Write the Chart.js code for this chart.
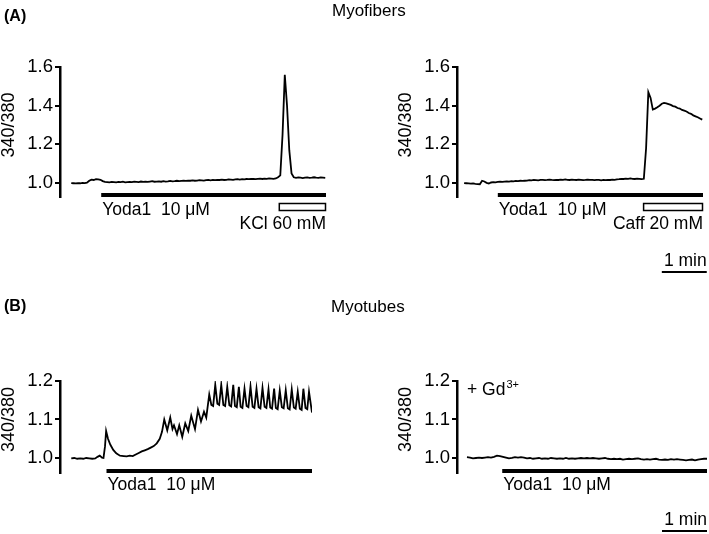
<!DOCTYPE html>
<html>
<head>
<meta charset="utf-8">
<script src="https://cdn.jsdelivr.net/npm/chart.js@4/dist/chart.umd.min.js"></script>
<style>
  body { margin: 0; background: #fff; }
  #fig { position: relative; width: 709px; height: 534px; font-family: Arial, "Liberation Sans", Helvetica, sans-serif; color: #000; }
  #fig canvas { position: absolute; }
  .lbl { position: absolute; font-size: 17px; line-height: 1; white-space: nowrap; }
</style>
</head>
<body>
<div id="fig">
  <canvas id="a1" width="345" height="285" style="left:0;top:0"></canvas>
  <canvas id="a2" width="312" height="285" style="left:397px;top:0"></canvas>
  <canvas id="b1" width="345" height="244" style="left:0;top:290px"></canvas>
  <canvas id="b2" width="312" height="244" style="left:397px;top:290px"></canvas>
  <div class="lbl" style="left:4px;top:8px;font-weight:bold;font-size:16px">(A)</div>
  <div class="lbl" style="left:332px;top:2px">Myofibers</div>
  <div class="lbl" style="left:4px;top:298px;font-weight:bold;font-size:16px">(B)</div>
  <div class="lbl" style="left:331px;top:298px">Myotubes</div>
</div>
<script>
// time in s, ratio 340/380

// (A) myofibers, Yoda1 then KCl - one sample every 3 s
const stepA = 3;
const ratioA1 = [
  1.000, 0.999, 0.998, 1.000, 0.999, 1.001, 1.000, 1.002,
  1.012, 1.018, 1.016, 1.020, 1.019, 1.017,
  1.010, 1.006,
  1.005, 1.004, 1.006, 1.005, 1.004, 1.006, 1.005, 1.007, 1.004, 1.005,
  1.006, 1.005, 1.007, 1.006, 1.005, 1.008, 1.006, 1.007, 1.006, 1.008,
  1.010, 1.007, 1.008, 1.009, 1.007, 1.010, 1.008, 1.009, 1.011, 1.009,
  1.010, 1.012, 1.010, 1.011,
  1.012, 1.011, 1.013, 1.012, 1.014, 1.012, 1.013, 1.015, 1.014, 1.013,
  1.015, 1.016, 1.014, 1.016, 1.015, 1.017, 1.016, 1.018, 1.016, 1.017,
  1.019, 1.018, 1.017, 1.019, 1.020, 1.018, 1.020, 1.019, 1.021, 1.020,
  1.022, 1.021, 1.020, 1.022, 1.023, 1.021, 1.023, 1.022, 1.024, 1.023,
  1.022, 1.024, 1.030,
  1.040, 1.250, 1.560, 1.400, 1.170, 1.050, 1.030,
  1.027, 1.029, 1.028, 1.026, 1.028, 1.029, 1.027, 1.028, 1.030, 1.028,
  1.027, 1.029, 1.028, 1.027
];
const yodaA1 = [40, 340];
const kclA1 = [277, 340];

// (A) myofibers, Yoda1 then caffeine
const ratioA2 = [
  1.000, 0.999, 0.998, 0.997, 0.998, 0.996, 0.995, 0.994,
  1.012, 1.008, 1.001,
  0.998, 1.003, 1.005, 1.004, 1.006, 1.007, 1.006, 1.008, 1.009, 1.008,
  1.010, 1.009, 1.011, 1.010, 1.012, 1.011, 1.012,
  1.013, 1.015, 1.014, 1.016, 1.015, 1.014, 1.016, 1.017, 1.015, 1.016,
  1.018, 1.016, 1.015, 1.017, 1.016, 1.018, 1.017, 1.019, 1.017, 1.016,
  1.018, 1.017, 1.016, 1.018, 1.017, 1.015, 1.016, 1.018, 1.017, 1.016,
  1.015, 1.017, 1.016, 1.014, 1.016, 1.015, 1.017, 1.016, 1.018, 1.017,
  1.019, 1.020, 1.022, 1.021, 1.023, 1.022, 1.024, 1.022, 1.021, 1.023,
  1.022, 1.020,
  1.022, 1.180, 1.470, 1.440, 1.380, 1.385,
  1.392, 1.400, 1.410, 1.414, 1.412, 1.408, 1.404, 1.398, 1.395, 1.388,
  1.385, 1.378, 1.374, 1.370, 1.362, 1.358, 1.350, 1.345, 1.340, 1.334,
  1.328
];
const yodaA2 = [45, 319];
const caffA2 = [239, 319];

// (B) myotubes, Yoda1 alone - peaks and troughs
const timeB1 = [
  0, 4, 8, 12, 16, 20, 24, 28, 32, 35, 38, 41, 43, 45, 46.5, 49, 52, 56, 60, 65,
  70, 74, 78, 82, 86, 90, 94, 98, 102, 106, 110, 114, 118, 121, 124, 128, 132, 135, 137, 141,
  144, 148, 152, 156, 160, 165, 169, 173, 177, 180,
  184, 186.8, 189.2, 192, 194.8, 197.2, 200, 202.8, 205.2, 208, 210.8, 213.2,
  216, 218.3, 220.7, 223.5, 225.8, 228.2, 231, 233.8, 236.2, 239, 241.8, 244.2,
  247, 249.8, 252.2, 255, 257.8, 260.2, 263, 265.3, 267.7, 270.5, 272.8, 275.2,
  278, 280.8, 283.2, 286, 288.8, 291.2, 294, 296.8, 299.2, 302, 304.8, 307.2,
  309.5, 312.3, 314.7, 317, 321
];
const ratioB1 = [
  0.999, 1.000, 0.998, 0.999, 0.998, 1.000, 0.999, 0.998, 0.999, 1.003, 1.006, 1.001, 1.000, 1.030, 1.070, 1.050, 1.035, 1.021, 1.012, 1.006,
  1.005, 1.004, 1.006, 1.005, 1.009, 1.013, 1.017, 1.020, 1.023, 1.027, 1.031, 1.038, 1.050, 1.068, 1.100, 1.072, 1.105, 1.075, 1.085, 1.062,
  1.085, 1.055, 1.090, 1.070, 1.110, 1.075, 1.125, 1.095, 1.120, 1.105,
  1.165, 1.138, 1.135, 1.190, 1.141, 1.138, 1.190, 1.138, 1.135, 1.185, 1.137, 1.134,
  1.190, 1.135, 1.132, 1.185, 1.133, 1.130, 1.180, 1.135, 1.132, 1.186, 1.133, 1.130,
  1.180, 1.132, 1.129, 1.182, 1.133, 1.130, 1.178, 1.131, 1.128, 1.180, 1.130, 1.127,
  1.175, 1.132, 1.129, 1.176, 1.129, 1.126, 1.178, 1.131, 1.128, 1.172, 1.128, 1.125,
  1.180, 1.130, 1.127, 1.172, 1.118
];
const yodaB1 = [47, 321];

// (B) myotubes, Yoda1 with Gd3+ - one sample every 4 s
const stepB2 = 4;
const ratioB2 = [
  1.002, 1.001, 0.999, 1.000, 1.001, 1.000, 1.001, 1.002, 1.001, 1.003,
  1.006, 1.005, 1.003, 1.001, 0.999, 1.000, 1.002, 1.001, 1.002, 1.001,
  0.999, 1.000, 0.998, 0.999, 1.000, 0.998, 0.999, 0.998, 1.000, 0.999,
  0.998, 0.999, 0.998, 1.000, 0.998, 0.999, 0.998, 0.999, 1.000, 0.999,
  1.000, 0.999, 1.000, 0.999, 0.998, 0.999, 1.000, 0.998, 0.997, 0.998,
  0.997, 0.998, 0.996, 0.997, 0.998, 0.997, 0.998, 0.999, 0.997, 0.996,
  0.997, 0.996, 0.997, 0.998, 0.996, 0.995, 0.996, 0.995, 0.997, 0.996,
  0.997, 0.996, 0.995, 0.994, 0.995, 0.996, 0.994, 0.996, 0.997, 0.998,
  0.998
];
const yodaB2 = [47, 320];

const ticksA = [1.0, 1.2, 1.4, 1.6];
const ticksB = [1.0, 1.1, 1.2];
const scaleBarSec = 60;

const yLabel = '340/380';
const yodaLabel = 'Yoda1  10 \u03bcM';
const kclLabel = 'KCl 60 mM';
const caffLabel = 'Caff 20 mM';
const scaleLabel = '1 min';

const family = 'Arial, "Liberation Sans", Helvetica, sans-serif';
const textFont = '17.5px ' + family;

const marks = {
  id: 'marks',
  afterDraw(chart, args, o) {
    const ctx = chart.ctx, ca = chart.chartArea;
    const x = chart.scales.x, y = chart.scales.y;
    ctx.save();
    ctx.fillStyle = '#000';
    ctx.strokeStyle = '#000';
    ctx.font = textFont;
    ctx.textBaseline = 'middle';

    // axis title, centred on the ticked range
    const midY = (y.getPixelForValue(o.ticks[0]) + y.getPixelForValue(o.ticks[o.ticks.length - 1])) / 2;
    ctx.save();
    ctx.translate(ca.left - 51, midY);
    ctx.rotate(-Math.PI / 2);
    ctx.textAlign = 'center';
    ctx.font = '18px ' + family;
    ctx.fillText(yLabel, 0, 0);
    ctx.restore();

    // Yoda1 application bar
    const y0 = x.getPixelForValue(o.yoda[0]), y1 = x.getPixelForValue(o.yoda[1]);
    ctx.fillRect(y0, ca.bottom - 4, y1 - y0, 4);
    ctx.textAlign = 'left';
    ctx.fillText(yodaLabel, y0 + 1, ca.bottom + o.textDy);

    // second drug, open bar
    if (o.open) {
      const o0 = x.getPixelForValue(o.open[0]), o1 = x.getPixelForValue(o.open[1]);
      ctx.lineWidth = 1.5;
      ctx.strokeRect(o0 + 0.5, ca.bottom + 6.5, o1 - o0 - 1, 7);
      ctx.textAlign = 'right';
      ctx.fillText(o.openLabel, o1, ca.bottom + 27);
    }

    // + Gd3+
    if (o.gd) {
      const gx = x.getPixelForValue(0), gy = y.getPixelForValue(y.max) + 9;
      ctx.textAlign = 'left';
      ctx.fillText('+ Gd', gx, gy);
      const w = ctx.measureText('+ Gd').width;
      ctx.font = '11px ' + family;
      ctx.fillText('3+', gx + w + 1, gy - 5);
      ctx.font = textFont;
    }

    // 1 min scale bar
    if (o.scaleEnd != null) {
      const s1 = x.getPixelForValue(o.scaleEnd), s0 = x.getPixelForValue(o.scaleEnd - scaleBarSec);
      ctx.fillRect(s0, ca.bottom + o.scaleDy, s1 - s0, 2);
      ctx.textAlign = 'right';
      ctx.fillText(scaleLabel, s1, ca.bottom + o.scaleDy - 10);
    }
    ctx.restore();
  }
};

function trace(id, times, values, cfg) {
  const pts = values.map((v, i) => ({ x: times[i], y: v }));
  return new Chart(document.getElementById(id), {
    type: 'line',
    data: { datasets: [{ data: pts, borderColor: '#000', borderWidth: 1.8, pointRadius: 0, tension: 0, fill: false }] },
    options: {
      responsive: false,
      animation: false,
      events: [],
      layout: { padding: cfg.pad },
      plugins: { legend: { display: false }, tooltip: { enabled: false }, marks: cfg.marks },
      scales: {
        x: { type: 'linear', display: false, min: cfg.xmin, max: cfg.xmax },
        y: {
          min: cfg.ymin,
          max: cfg.ymax,
          afterFit: s => { s.width = 60; },
          afterBuildTicks: s => { s.ticks = cfg.marks.ticks.map(v => ({ value: v })); },
          border: { display: true, width: 2.5, color: '#000' },
          grid: { drawOnChartArea: false, drawTicks: true, tickLength: 5, lineWidth: 2, color: '#000' },
          ticks: { color: '#000', padding: 2, font: { size: 18.5, family: family }, callback: v => v.toFixed(1) }
        }
      }
    },
    plugins: [marks]
  });
}

const timesA1 = ratioA1.map((v, i) => i * stepA);
const timesA2 = ratioA2.map((v, i) => i * stepA);
const timesB2 = ratioB2.map((v, i) => i * stepB2);

trace('a1', timesA1, ratioA1, {
  pad: { top: 67, right: 19, bottom: 88, left: 0 },
  xmin: -15, xmax: 340, ymin: 0.928, ymax: 1.6,
  marks: { ticks: ticksA, yoda: yodaA1, open: kclA1, openLabel: kclLabel, textDy: 13 }
});
trace('a2', timesA2, ratioA2, {
  pad: { top: 67, right: 6, bottom: 88, left: 0 },
  xmin: -9.5, xmax: 319, ymin: 0.928, ymax: 1.6,
  marks: { ticks: ticksA, yoda: yodaA2, open: caffA2, openLabel: caffLabel, textDy: 13, scaleEnd: 324, scaleDy: 74 }
});
trace('b1', timeB1, ratioB1, {
  pad: { top: 91, right: 33, bottom: 61, left: 0 },
  xmin: -15, xmax: 321, ymin: 0.961, ymax: 1.2,
  marks: { ticks: ticksB, yoda: yodaB1, textDy: 12 }
});
trace('b2', timesB2, ratioB2, {
  pad: { top: 91, right: 2, bottom: 61, left: 0 },
  xmin: -13.3, xmax: 320, ymin: 0.961, ymax: 1.2,
  marks: { ticks: ticksB, yoda: yodaB2, gd: true, textDy: 12, scaleEnd: 320, scaleDy: 57 }
});
</script>
</body>
</html>
